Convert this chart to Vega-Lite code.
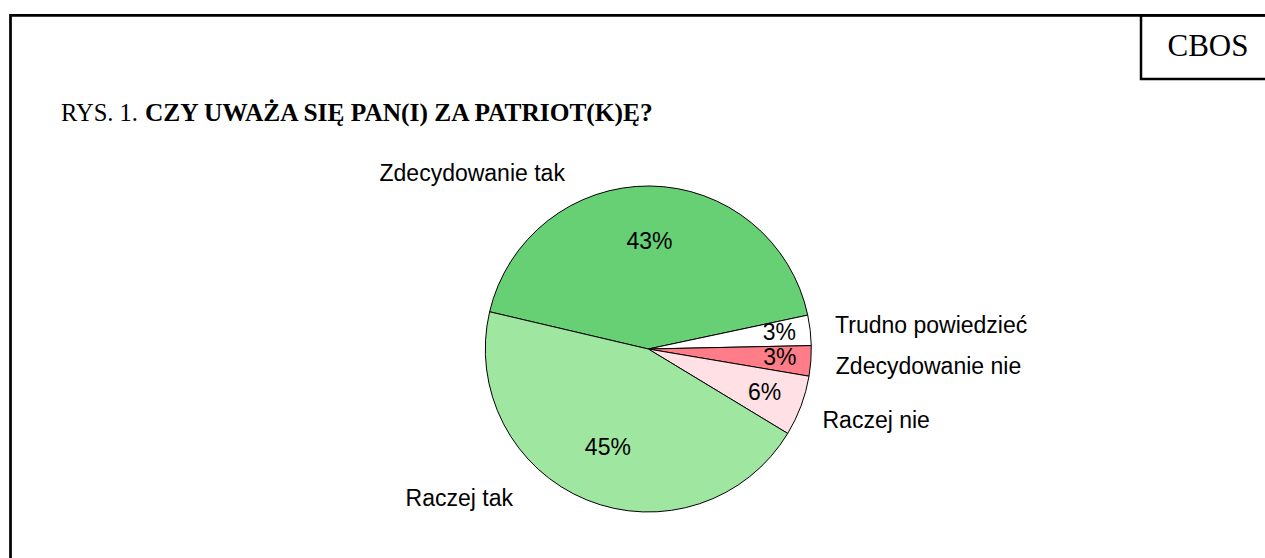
{
  "$schema": "https://vega.github.io/schema/vega-lite/v6.json",
  "width": 1265,
  "height": 558,
  "autosize": {"type": "none"},
  "padding": 0,
  "background": "white",
  "config": {"view": {"stroke": null}},
  "layer": [
    {
      "data": {"values": [{}]},
      "mark": {"type": "rect", "x": 10.5, "y": 15.3, "x2": 1400, "y2": 800, "fillOpacity": 0, "stroke": "black", "strokeWidth": 2.7},
      "encoding": {}
    },
    {
      "data": {"values": [{}]},
      "mark": {"type": "rect", "x": 1141, "y": 15.3, "x2": 1400, "y2": 79, "fillOpacity": 0, "stroke": "black", "strokeWidth": 2.5},
      "encoding": {}
    },
    {
      "data": {"values": [{}]},
      "mark": {"type": "text", "text": "CBOS", "x": 1208, "y": 56, "align": "center", "baseline": "alphabetic", "font": "Liberation Serif", "fontSize": 31, "color": "black"},
      "encoding": {}
    },
    {
      "data": {"values": [{}]},
      "mark": {"type": "text", "text": "RYS. 1.", "x": 61, "y": 121, "align": "left", "baseline": "alphabetic", "font": "Liberation Serif", "fontSize": 24.5, "color": "black"},
      "encoding": {}
    },
    {
      "data": {"values": [{}]},
      "mark": {"type": "text", "text": "CZY UWAŻA SIĘ PAN(I) ZA PATRIOT(K)Ę?", "x": 145, "y": 121, "align": "left", "baseline": "alphabetic", "font": "Liberation Serif", "fontSize": 25.4, "fontWeight": "bold", "color": "black"},
      "encoding": {}
    },
    {
      "data": {"values": [
        {"kategoria": "Zdecydowanie tak", "udzial": 0.43},
        {"kategoria": "Trudno powiedzieć", "udzial": 0.03},
        {"kategoria": "Zdecydowanie nie", "udzial": 0.03},
        {"kategoria": "Raczej nie", "udzial": 0.06},
        {"kategoria": "Raczej tak", "udzial": 0.45}
      ]},
      "transform": [{"window": [{"op": "row_number", "as": "kolejnosc"}]}],
      "layer": [
        {
          "mark": {"type": "arc", "outerRadius": 163, "x": 648.3, "y": 349, "stroke": "black", "strokeWidth": 1},
          "encoding": {
            "theta": {"field": "udzial", "type": "quantitative", "stack": true, "scale": {"domain": [0, 1], "range": [4.9428, 11.226]}},
            "order": {"field": "kolejnosc", "type": "quantitative"},
            "color": {
              "field": "kategoria", "type": "nominal", "legend": null,
              "scale": {
                "domain": ["Zdecydowanie tak", "Trudno powiedzieć", "Zdecydowanie nie", "Raczej nie", "Raczej tak"],
                "range": ["#67D075", "#FFFFFF", "#FF7D88", "#FFE0E5", "#9FE6A0"]
              }
            }
          }
        },
        {
          "mark": {"type": "text", "radius": 107, "x": 648.3, "y": 349, "align": "center", "baseline": "middle", "font": "Liberation Sans", "fontSize": 23, "color": "black"},
          "encoding": {
            "theta": {"field": "udzial", "type": "quantitative", "stack": true},
            "order": {"field": "kolejnosc", "type": "quantitative"},
            "text": {"field": "udzial", "type": "quantitative", "format": ".0%", "condition": {"test": "datum.udzial < 0.1", "value": ""}}
          }
        },
        {
          "mark": {"type": "text", "radius": 132, "x": 648.3, "y": 349, "dy": -1, "align": "center", "baseline": "middle", "font": "Liberation Sans", "fontSize": 23, "color": "black"},
          "encoding": {
            "theta": {"field": "udzial", "type": "quantitative", "stack": true},
            "order": {"field": "kolejnosc", "type": "quantitative"},
            "text": {"field": "udzial", "type": "quantitative", "format": ".0%", "condition": {"test": "datum.udzial != 0.03", "value": ""}}
          }
        },
        {
          "mark": {"type": "text", "radius": 124, "x": 648.3, "y": 349, "dy": 1, "align": "center", "baseline": "middle", "font": "Liberation Sans", "fontSize": 23, "color": "black"},
          "encoding": {
            "theta": {"field": "udzial", "type": "quantitative", "stack": true},
            "order": {"field": "kolejnosc", "type": "quantitative"},
            "text": {"field": "udzial", "type": "quantitative", "format": ".0%", "condition": {"test": "datum.udzial != 0.06", "value": ""}}
          }
        },
        {
          "mark": {"type": "text", "radius": 188, "x": 648.3, "y": 349, "dy": -1, "align": "left", "baseline": "middle", "font": "Liberation Sans", "fontSize": 23, "color": "black"},
          "encoding": {
            "theta": {"field": "udzial", "type": "quantitative", "stack": true},
            "order": {"field": "kolejnosc", "type": "quantitative"},
            "text": {"field": "kategoria", "type": "nominal", "condition": {"test": "datum.kategoria != 'Trudno powiedzieć'", "value": ""}}
          }
        },
        {
          "mark": {"type": "text", "radius": 188, "x": 648.3, "y": 349, "dy": 4, "align": "left", "baseline": "middle", "font": "Liberation Sans", "fontSize": 23, "color": "black"},
          "encoding": {
            "theta": {"field": "udzial", "type": "quantitative", "stack": true},
            "order": {"field": "kolejnosc", "type": "quantitative"},
            "text": {"field": "kategoria", "type": "nominal", "condition": {"test": "datum.kategoria != 'Zdecydowanie nie'", "value": ""}}
          }
        },
        {
          "mark": {"type": "text", "radius": 188, "x": 648.3, "y": 349, "dx": -2, "dy": 6, "align": "left", "baseline": "middle", "font": "Liberation Sans", "fontSize": 23, "color": "black"},
          "encoding": {
            "theta": {"field": "udzial", "type": "quantitative", "stack": true},
            "order": {"field": "kolejnosc", "type": "quantitative"},
            "text": {"field": "kategoria", "type": "nominal", "condition": {"test": "datum.kategoria != 'Raczej nie'", "value": ""}}
          }
        },
        {
          "mark": {"type": "text", "radius": 180, "x": 648.3, "y": 349, "dx": -178, "dy": 5, "align": "center", "baseline": "middle", "font": "Liberation Sans", "fontSize": 23, "color": "black"},
          "encoding": {
            "theta": {"field": "udzial", "type": "quantitative", "stack": true},
            "order": {"field": "kolejnosc", "type": "quantitative"},
            "text": {"field": "kategoria", "type": "nominal", "condition": {"test": "datum.kategoria != 'Zdecydowanie tak'", "value": ""}}
          }
        },
        {
          "mark": {"type": "text", "radius": 180, "x": 648.3, "y": 349, "dx": -121, "dy": -17, "align": "center", "baseline": "middle", "font": "Liberation Sans", "fontSize": 23, "color": "black"},
          "encoding": {
            "theta": {"field": "udzial", "type": "quantitative", "stack": true},
            "order": {"field": "kolejnosc", "type": "quantitative"},
            "text": {"field": "kategoria", "type": "nominal", "condition": {"test": "datum.kategoria != 'Raczej tak'", "value": ""}}
          }
        }
      ]
    }
  ]
}
